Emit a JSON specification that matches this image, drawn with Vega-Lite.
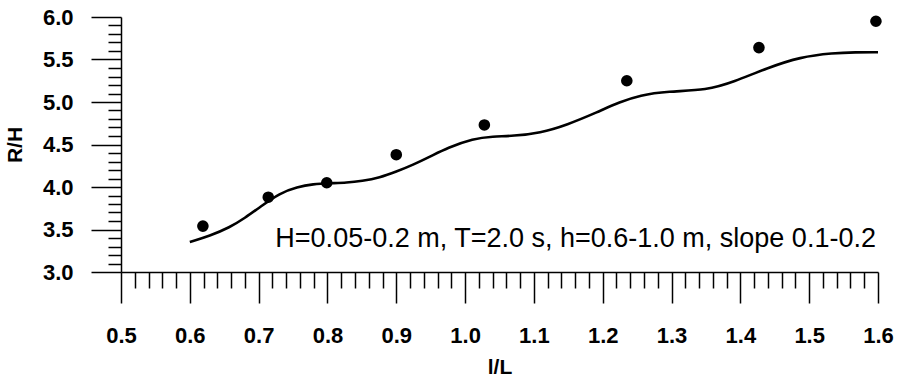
{
  "$schema": "https://vega.github.io/schema/vega-lite/v6.json",
  "width": 757,
  "height": 255,
  "autosize": {"type": "none"},
  "padding": {"left": 121, "top": 17, "right": 21, "bottom": 106},
  "background": "white",
  "config": {"view": {"stroke": null}},
  "datasets": {
    "curve": [
      {"x": 0.600, "y": 3.353},
      {"x": 0.629, "y": 3.425},
      {"x": 0.658, "y": 3.525},
      {"x": 0.680, "y": 3.635},
      {"x": 0.702, "y": 3.765},
      {"x": 0.731, "y": 3.93},
      {"x": 0.756, "y": 4.0},
      {"x": 0.779, "y": 4.035},
      {"x": 0.804, "y": 4.045},
      {"x": 0.828, "y": 4.05},
      {"x": 0.850, "y": 4.07},
      {"x": 0.876, "y": 4.11},
      {"x": 0.900, "y": 4.18},
      {"x": 0.924, "y": 4.26},
      {"x": 0.950, "y": 4.36},
      {"x": 0.974, "y": 4.46},
      {"x": 1.012, "y": 4.57},
      {"x": 1.040, "y": 4.595},
      {"x": 1.070, "y": 4.6},
      {"x": 1.109, "y": 4.635},
      {"x": 1.148, "y": 4.73},
      {"x": 1.192, "y": 4.88},
      {"x": 1.225, "y": 5.0},
      {"x": 1.254, "y": 5.08},
      {"x": 1.294, "y": 5.125},
      {"x": 1.352, "y": 5.14},
      {"x": 1.390, "y": 5.235},
      {"x": 1.439, "y": 5.40},
      {"x": 1.487, "y": 5.53},
      {"x": 1.535, "y": 5.576},
      {"x": 1.567, "y": 5.585},
      {"x": 1.600, "y": 5.585}
    ],
    "obs": [
      {"x": 0.619, "y": 3.54},
      {"x": 0.714, "y": 3.88},
      {"x": 0.799, "y": 4.05},
      {"x": 0.900, "y": 4.38},
      {"x": 1.028, "y": 4.73},
      {"x": 1.235, "y": 5.25},
      {"x": 1.427, "y": 5.64},
      {"x": 1.597, "y": 5.95}
    ],
    "note": [
      {"label": "H=0.05-0.2 m, T=2.0 s, h=0.6-1.0 m, slope 0.1-0.2"}
    ]
  },
  "layer": [
    {
      "data": {"name": "curve"},
      "mark": {"type": "line", "color": "black", "strokeWidth": 2.6, "interpolate": "basis"},
      "encoding": {
        "x": {
          "field": "x", "type": "quantitative",
          "scale": {"domain": [0.5, 1.6], "nice": false, "zero": false},
          "axis": {
            "orient": "bottom",
            "values": [0.5, 0.6, 0.7, 0.8, 0.9, 1.0, 1.1, 1.2, 1.3, 1.4, 1.5, 1.6],
            "format": ".1f",
            "grid": false,
            "tickSize": 31, "tickWidth": 1.5, "tickColor": "black",
            "domainColor": "black", "domainWidth": 1.5,
            "labelFont": "Liberation Sans", "labelFontWeight": "bold", "labelFontSize": 22,
            "labelColor": "black", "labelPadding": 22, "labelFlush": false, "labelOverlap": false,
            "title": "l/L", "titleFont": "Liberation Sans", "titleFontWeight": "bold",
            "titleFontSize": 21, "titleColor": "black", "titlePadding": 10
          }
        },
        "y": {
          "field": "y", "type": "quantitative",
          "scale": {"domain": [3, 6], "nice": false, "zero": false},
          "axis": {
            "orient": "left",
            "values": [3.0, 3.5, 4.0, 4.5, 5.0, 5.5, 6.0],
            "format": ".1f",
            "grid": false,
            "tickSize": 30, "tickWidth": 1.5, "tickColor": "black",
            "domainColor": "black", "domainWidth": 1.5,
            "labelFont": "Liberation Sans", "labelFontWeight": "bold", "labelFontSize": 22,
            "labelColor": "black", "labelPadding": 18, "labelFlush": false, "labelOverlap": false,
            "title": "R/H", "titleFont": "Liberation Sans", "titleFontWeight": "bold",
            "titleFontSize": 21, "titleColor": "black", "titlePadding": 17
          }
        }
      }
    },
    {
      "data": {"name": "obs"},
      "mark": {"type": "circle", "color": "black", "opacity": 1, "size": 135},
      "encoding": {
        "x": {
          "field": "x", "type": "quantitative",
          "axis": {
            "orient": "bottom",
            "values": [0.52, 0.54, 0.56, 0.58, 0.62, 0.64, 0.66, 0.68, 0.72, 0.74, 0.76, 0.78, 0.82, 0.84, 0.86, 0.88, 0.92, 0.94, 0.96, 0.98, 1.02, 1.04, 1.06, 1.08, 1.12, 1.14, 1.16, 1.18, 1.22, 1.24, 1.26, 1.28, 1.32, 1.34, 1.36, 1.38, 1.42, 1.44, 1.46, 1.48, 1.52, 1.54, 1.56, 1.58],
            "grid": false, "domain": false, "labels": false, "title": null,
            "tickSize": 16, "tickWidth": 1.5, "tickColor": "black"
          }
        },
        "y": {
          "field": "y", "type": "quantitative",
          "axis": {
            "orient": "left",
            "values": [3.1, 3.2, 3.3, 3.4, 3.6, 3.7, 3.8, 3.9, 4.1, 4.2, 4.3, 4.4, 4.6, 4.7, 4.8, 4.9, 5.1, 5.2, 5.3, 5.4, 5.6, 5.7, 5.8, 5.9],
            "grid": false, "domain": false, "labels": false, "title": null,
            "tickSize": 13, "tickWidth": 1.5, "tickColor": "black"
          }
        }
      }
    },
    {
      "data": {"name": "note"},
      "mark": {"type": "text", "align": "right", "baseline": "alphabetic", "font": "Liberation Sans", "fontSize": 27, "color": "black"},
      "encoding": {
        "x": {"datum": 1.597, "type": "quantitative", "axis": null},
        "y": {"datum": 3.294, "type": "quantitative", "axis": null},
        "text": {"field": "label", "type": "nominal"}
      }
    }
  ],
  "resolve": {"axis": {"x": "independent", "y": "independent"}}
}
